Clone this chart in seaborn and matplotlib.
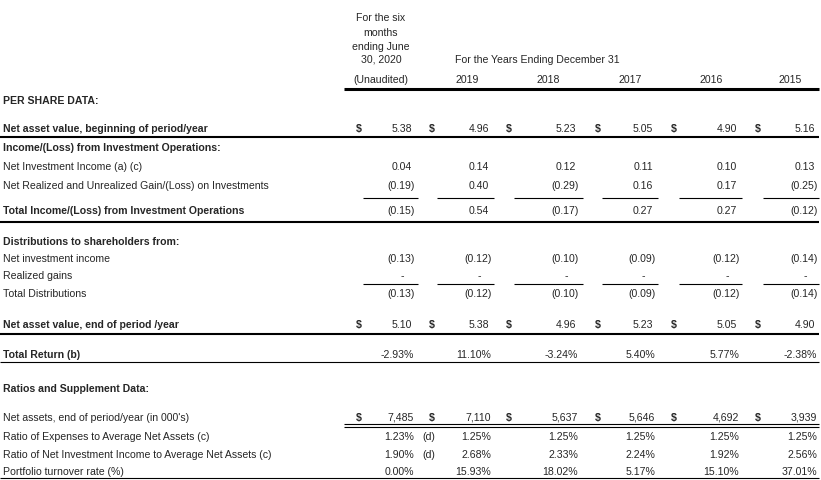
import numpy as np
import pandas as pd
import matplotlib.pyplot as plt
import seaborn as sns

# ---- data (first column = six months ending June 30, 2020) ----
year_labels = ["2019", "2018", "2017", "2016", "2015"]

nav_begin = [5.38, 4.96, 5.23, 5.05, 4.90, 5.16]
net_inv_income = [0.04, 0.14, 0.12, 0.11, 0.10, 0.13]
net_gain = [-0.19, 0.40, -0.29, 0.16, 0.17, -0.25]
total_ops = [-0.15, 0.54, -0.17, 0.27, 0.27, -0.12]
dist_income = [-0.13, -0.12, -0.10, -0.09, -0.12, -0.14]
dist_gains = [0, 0, 0, 0, 0, 0]
total_dist = [-0.13, -0.12, -0.10, -0.09, -0.12, -0.14]
nav_end = [5.10, 5.38, 4.96, 5.23, 5.05, 4.90]
total_return = [-2.93, 11.10, -3.24, 5.40, 5.77, -2.38]
net_assets = [7485, 7110, 5637, 5646, 4692, 3939]
expense_ratio = [1.23, 1.25, 1.25, 1.25, 1.25, 1.25]
income_ratio = [1.90, 2.68, 2.33, 2.24, 1.92, 2.56]
turnover = [0.00, 15.93, 18.02, 5.17, 15.10, 37.01]


def fmt(v, kind):
    if kind == "share":
        if v == 0:
            return "-"
        return "(%.2f)" % abs(v) if v < 0 else "%.2f" % v
    if kind == "pct":
        return "%.2f%%" % v
    return "{:,}".format(v)


# ---- layout ----
W, H = 821, 480
right_edge = [412, 489, 576, 653, 737, 815]
dollar_x = [359, 432, 509, 598, 674, 758]
seg = [(363, 418), (437, 494), (514, 583), (602, 658), (679, 742), (763, 819)]
year_x = [467, 548, 630, 711, 790]
FS = 7.6

# label, y, bold, values, kind, dollar sign
rows = [
    ("PER SHARE DATA:", 101, True, None, None, False),
    ("Net asset value, beginning of period/year", 129, True, nav_begin, "share", True),
    ("Income/(Loss) from Investment Operations:", 148, True, None, None, False),
    ("Net Investment Income (a) (c)", 167, False, net_inv_income, "share", False),
    ("Net Realized and Unrealized Gain/(Loss) on Investments", 186, False, net_gain, "share", False),
    ("Total Income/(Loss) from Investment Operations", 211, True, total_ops, "share", False),
    ("Distributions to shareholders from:", 242, True, None, None, False),
    ("Net investment income", 259, False, dist_income, "share", False),
    ("Realized gains", 276, False, dist_gains, "share", False),
    ("Total Distributions", 294, False, total_dist, "share", False),
    ("Net asset value, end of period /year", 325, True, nav_end, "share", True),
    ("Total Return (b)", 355, True, total_return, "pct", False),
    ("Ratios and Supplement Data:", 389, True, None, None, False),
    ("Net assets, end of period/year (in 000's)", 418, False, net_assets, "int", True),
    ("Ratio of Expenses to Average Net Assets (c)", 437, False, expense_ratio, "pct", False),
    ("Ratio of Net Investment Income to Average Net Assets (c)", 455, False, income_ratio, "pct", False),
    ("Portfolio turnover rate (%)", 472, False, turnover, "pct", False),
]

sns.set_theme(style="white")
plt.rcParams["font.family"] = ["Liberation Sans", "DejaVu Sans"]

fig = plt.figure(figsize=(8.21, 4.80), dpi=100)
ax = fig.add_axes([0, 0, 1, 1])
ax.set_xlim(0, W)
ax.set_ylim(H, 0)
ax.axis("off")

# header
for i, t in enumerate(["For the six", "months", "ending June", "30, 2020"]):
    ax.text(381, [18, 33, 47, 60][i], t, ha="center", va="center", fontsize=FS)
ax.text(381, 80, "(Unaudited)", ha="center", va="center", fontsize=FS)
ax.text(455, 60, "For the Years Ending December 31", ha="left", va="center", fontsize=FS)
for x, yr in zip(year_x, year_labels):
    ax.text(x, 80, yr, ha="center", va="center", fontsize=FS)

# rows
for label, y, bold, vals, kind, dollar in rows:
    ax.text(3, y, label, ha="left", va="center", fontsize=FS,
            fontweight="bold" if bold else "normal")
    if vals is None:
        continue
    for c, v in enumerate(vals):
        s = fmt(v, kind)
        x = right_edge[c]
        if s == "-":
            x -= 8
        elif s.endswith(")"):
            x += 3
        elif kind in ("pct", "int"):
            x += 2
        ax.text(x, y, s, ha="right", va="center", fontsize=FS)
        if dollar:
            ax.text(dollar_x[c], y, "$", ha="center", va="center",
                    fontsize=FS, fontweight="bold")

# footnote markers on the 2020 ratios
for y in (437, 455):
    ax.text(429, y, "(d)", ha="center", va="center", fontsize=FS)

# rules
ax.hlines(89, 344, 819, color="black", lw=2.2)
for y in (137, 222, 334):
    ax.hlines(y, 0, 819, color="black", lw=1.5)
for y in (362, 478):
    ax.hlines(y, 0, 819, color="black", lw=0.8)
for y in (198, 284):
    for a, b in seg:
        ax.hlines(y, a, b, color="black", lw=0.8)
for y in (424, 427):
    ax.hlines(y, 344, 819, color="black", lw=0.8)

fig.savefig("out.png", dpi=100, facecolor="white")
